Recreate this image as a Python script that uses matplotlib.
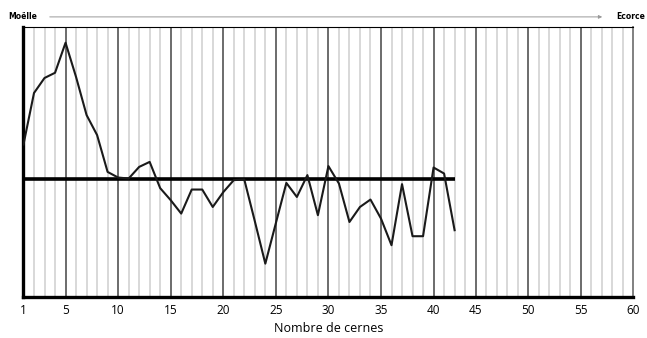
import matplotlib.pyplot as plt

# Ring-width index per ring (100 = reference line)
rings = list(range(1, 43))
index = [117.0, 142.7, 150.2, 152.8, 167.8, 150.7, 131.7, 121.7, 103.3, 100.5,
         100.0, 105.8, 108.3, 95.2, 89.2, 82.5, 94.5, 94.5, 85.8, 93.2,
         99.2, 99.5, 78.7, 57.5, 77.7, 97.8, 90.8, 101.7, 81.7, 106.2,
         97.5, 78.3, 85.8, 89.5, 80.0, 66.7, 97.2, 71.2, 71.2, 105.5,
         102.5, 74.2]
reference = 100

# tick labels; in the original drawing 45..60 sit one ring early
tick_labels = ['1', '5', '10', '15', '20', '25', '30', '35', '40', '45', '50', '55', '60']
tick_pos = [1] + list(range(5, 45, 5)) + list(range(44, 60, 5))

plt.rcParams['font.family'] = ['Open Sans', 'DejaVu Sans']

fig = plt.figure(figsize=(6.47, 3.38), dpi=100)
ax = fig.add_axes([0.0363, 0.1222, 0.9426, 0.797])

# light grid, one line per ring
for r in range(2, 59):
    if r not in tick_pos:
        ax.axvline(r, color='#d8d8d8', lw=1.4, zorder=1)
for p in tick_pos[1:-1]:
    ax.axvline(p, color='#444444', lw=1.1, zorder=2)

ax.hlines(reference, rings[0], rings[-1], color='black', lw=2.6, zorder=3)
ax.plot(rings, index, color='#1a1a1a', lw=1.5, zorder=4)

ax.set_xlim(1, 59)
ax.set_ylim(41, 175.5)
ax.set_yticks([])
ax.set_xticks(tick_pos)
ax.set_xticklabels(tick_labels, fontsize=8.5)
ax.tick_params(axis='x', length=0, pad=5)
ax.set_xlabel('Nombre de cernes', fontsize=9, labelpad=4)

ax.spines['left'].set_linewidth(2.4)
ax.spines['bottom'].set_linewidth(2.4)
ax.spines['top'].set_linewidth(0.8)
ax.spines['right'].set_linewidth(1.4)
ax.spines['right'].set_color('#808080')

# header: pith -> bark
fig.text(8 / 647, 0.95, 'Moëlle', fontsize=5.5, fontweight='bold',
         ha='left', va='center', family='DejaVu Sans')
fig.text(645 / 647, 0.95, 'Ecorce', fontsize=5.5, fontweight='bold',
         ha='right', va='center', family='DejaVu Sans')
fig.add_artist(plt.Annotation('', xy=(605 / 647, 0.95), xytext=(47 / 647, 0.95),
                              xycoords='figure fraction',
                              arrowprops=dict(arrowstyle='-|>', color='#999999',
                                              lw=0.7, mutation_scale=5)))

fig.savefig('out.png', dpi=100)
